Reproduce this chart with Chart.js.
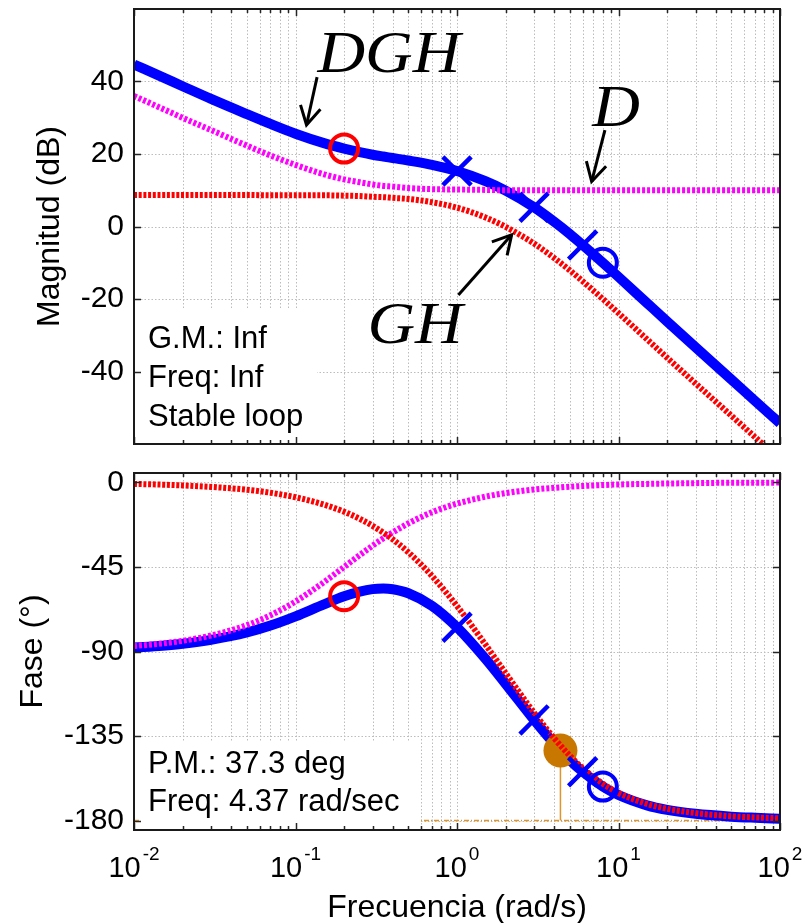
<!DOCTYPE html>
<html><head><meta charset="utf-8">
<script src="https://cdn.jsdelivr.net/npm/chart.js@4.4.1/dist/chart.umd.min.js"></script>
<style>
html,body{margin:0;padding:0;background:#fff;}
#wrap{position:relative;width:809px;height:923px;overflow:hidden;background:#fff;}
canvas{position:absolute;left:0;}
#c1{top:0}
#c2{top:460px}
</style></head><body>
<div id="wrap"><canvas id="c1" width="809" height="460"></canvas><canvas id="c2" width="809" height="463"></canvas></div>
<script>
// ---------------- data ----------------
const freq = [0.01,0.015,0.02,0.03,0.05,0.07,0.1,0.15,0.2,0.25,0.3,0.35,0.4,0.5,0.7,1,1.5,2,3,4,5,6,8,10,15,20,30,50,70,100];
const magDGH = [44.7,41.2,38.7,35.2,31.0,28.3,25.6,23.0,21.5,20.5,19.8,19.3,18.9,18.2,17.0,15.3,12.5,9.9,5.3,1.3,-2.1,-5.1,-10.0,-13.9,-21.1,-26.2,-33.3,-42.2,-48.1,-54.3];
const magD = [36.0,32.5,30.0,26.6,22.3,19.6,17.0,14.4,13.0,12.2,11.6,11.2,11.0,10.6,10.3,10.2,10.1,10.0,10.0,10.0,10.0,10.0,10.0,10.0,10.0,10.0,10.0,10.0,10.0,10.0];
const magGH = [8.7,8.7,8.7,8.7,8.7,8.6,8.6,8.6,8.5,8.4,8.2,8.1,7.9,7.6,6.7,5.2,2.5,-0.1,-4.7,-8.7,-12.1,-15.1,-20.0,-23.9,-31.1,-36.2,-43.3,-52.2,-58.1,-64.3];
const phaseDGH = [-87.9,-86.9,-85.9,-83.8,-79.9,-76.2,-71.3,-64.9,-60.6,-58.1,-56.8,-56.5,-56.9,-59.0,-65.7,-77.1,-93.9,-107.2,-126.4,-139.1,-147.8,-154.0,-161.9,-166.4,-171.9,-174.3,-176.4,-177.9,-178.5,-179.0];
const phaseD = [-87.1,-85.7,-84.3,-81.5,-76.0,-70.7,-63.4,-53.1,-45.0,-38.7,-33.7,-29.7,-26.6,-21.8,-15.9,-11.3,-7.6,-5.7,-3.8,-2.9,-2.3,-1.9,-1.4,-1.1,-0.8,-0.6,-0.4,-0.2,-0.2,-0.1];
const phaseGH = [-0.8,-1.2,-1.6,-2.4,-3.9,-5.5,-7.9,-11.8,-15.6,-19.4,-23.1,-26.8,-30.3,-37.2,-49.8,-65.8,-86.3,-101.5,-122.6,-136.2,-145.5,-152.1,-160.4,-165.3,-171.1,-173.7,-176.0,-177.7,-178.3,-178.8];

// markers
const redCircleFreq = [0.2];
const redCircleMag = [21.5];
const redCirclePhase = [-60.6];
const crossFreq = [1, 3, 6];
const crossMag = [15.3, 5.3, -5.1];
const crossPhase = [-77.1, -126.4, -154.0];
const blueCircleFreq = [8];
const blueCircleMag = [-10.0];
const blueCirclePhase = [-161.9];
const pmFreq = [4.37];
const pmPhase = [-142.7];
const phaseFloor = [-180];

// ticks
const decades = [0.01, 0.1, 1, 10, 100];
const magTicks = [-40, -20, 0, 20, 40];
const phaseTicks = [-180, -135, -90, -45, 0];

// texts
const gmLines = ['G.M.: Inf', 'Freq: Inf', 'Stable loop'];
const pmLines = ['P.M.: 37.3 deg', 'Freq: 4.37 rad/sec'];
const magTitle = 'Magnitud (dB)';
const phaseTitle = 'Fase (°)';
const freqTitle = 'Frecuencia (rad/s)';

// ---------------- helpers ----------------
const SANS = '"Liberation Sans", Arial, Helvetica, sans-serif';
const SERIF = '"Liberation Serif", "Times New Roman", serif';
const BLUE = '#0000ff', RED = '#ff0000', MAG = '#ff00ff', ORANGE = '#c87800', ORANGE_L = '#e0952a';

const xTickValues = [];
decades.forEach((d, i) => {
  xTickValues.push(d);
  if (i < decades.length - 1) for (let k = 2; k <= 9; k++) xTickValues.push(+(d * k).toPrecision(3));
});
function isMajor(v) { const l = Math.log10(v); return Math.abs(l - Math.round(l)) < 1e-9; }
const pts = (xs, ys) => xs.map((f, i) => ({x: f, y: ys[i]}));

const bodePlugin = {
  id: 'bode',
  beforeDatasetsDraw(chart, args, o) {
    const {ctx, chartArea: a, scales: {x, y}} = chart;
    ctx.save();
    ctx.strokeStyle = '#bcbcbc'; ctx.lineWidth = 1; ctx.setLineDash([1.5, 2]);
    ctx.beginPath();
    x.ticks.forEach(t => {
      const px = Math.round(x.getPixelForValue(t.value)) + 0.5;
      if (px > a.left + 2 && px < a.right - 2) { ctx.moveTo(px, a.top); ctx.lineTo(px, a.bottom); }
    });
    y.ticks.forEach(t => {
      const py = Math.round(y.getPixelForValue(t.value)) + 0.5;
      ctx.moveTo(a.left, py); ctx.lineTo(a.right, py);
    });
    ctx.stroke();
    ctx.restore();
  },
  afterDatasetsDraw(chart, args, o) {
    const {ctx, chartArea: a, scales: {x, y}} = chart;
    ctx.save();
    ctx.setLineDash([]);
    // info box
    const b = o.box;
    ctx.fillStyle = '#fff';
    ctx.fillRect(a.left + 5, a.bottom - b.h, b.w, b.h);
    ctx.fillStyle = '#000';
    ctx.font = '31px ' + SANS;
    ctx.textAlign = 'left'; ctx.textBaseline = 'alphabetic';
    b.lines.forEach((s, i) => ctx.fillText(s, a.left + 14, a.bottom - b.base[i]));
    // math labels
    (o.labels || []).forEach(l => {
      const px = x.getPixelForValue(l.x), py = y.getPixelForValue(l.y);
      ctx.save(); ctx.translate(px, py); ctx.scale(1.1, 1);
      ctx.font = 'italic 60px ' + SERIF; ctx.textAlign = 'center'; ctx.fillStyle = '#000';
      ctx.fillText(l.text, 0, 0); ctx.restore();
    });
    // arrows
    (o.arrows || []).forEach(ar => {
      const x1 = x.getPixelForValue(ar.from[0]), y1 = y.getPixelForValue(ar.from[1]);
      const x2 = x.getPixelForValue(ar.to[0]), y2 = y.getPixelForValue(ar.to[1]);
      const ang = Math.atan2(y2 - y1, x2 - x1), L = 21, h = Math.PI / 6.2;
      ctx.strokeStyle = '#000'; ctx.lineWidth = 3; ctx.lineCap = 'butt'; ctx.lineJoin = 'miter';
      ctx.beginPath(); ctx.moveTo(x1, y1); ctx.lineTo(x2, y2); ctx.stroke();
      ctx.beginPath();
      ctx.moveTo(x2 - L * Math.cos(ang - h), y2 - L * Math.sin(ang - h));
      ctx.lineTo(x2, y2);
      ctx.lineTo(x2 - L * Math.cos(ang + h), y2 - L * Math.sin(ang + h));
      ctx.stroke();
    });
    // ticks + frame
    ctx.strokeStyle = '#262626'; ctx.lineWidth = 1.5;
    ctx.beginPath();
    x.ticks.forEach(t => {
      const px = Math.round(x.getPixelForValue(t.value)) + 0.5, L = isMajor(t.value) ? 7 : 4;
      ctx.moveTo(px, a.top); ctx.lineTo(px, a.top + L);
      ctx.moveTo(px, a.bottom); ctx.lineTo(px, a.bottom - L);
    });
    y.ticks.forEach(t => {
      const py = Math.round(y.getPixelForValue(t.value)) + 0.5;
      ctx.moveTo(a.left, py); ctx.lineTo(a.left + 7, py);
      ctx.moveTo(a.right, py); ctx.lineTo(a.right - 7, py);
    });
    ctx.stroke();
    ctx.lineWidth = 2; ctx.strokeStyle = '#1a1a1a';
    ctx.strokeRect(a.left, a.top, a.right - a.left, a.bottom - a.top);
    ctx.restore();
  },
  afterDraw(chart, args, o) {
    const {ctx, chartArea: a, scales: {x}} = chart;
    ctx.save();
    ctx.fillStyle = '#000'; ctx.textBaseline = 'alphabetic';
    // y title
    ctx.save();
    ctx.translate(o.yTitleX, (a.top + a.bottom) / 2);
    ctx.rotate(-Math.PI / 2);
    ctx.font = '32px ' + SANS; ctx.textAlign = 'center';
    ctx.fillText(o.yTitle, 0, 0);
    ctx.restore();
    if (o.xLabels) {
      ctx.textAlign = 'left';
      x.ticks.filter(t => isMajor(t.value)).forEach(t => {
        const px = x.getPixelForValue(t.value);
        const es = String(Math.round(Math.log10(t.value)));
        ctx.font = '29px ' + SANS; const w1 = ctx.measureText('10').width;
        ctx.font = '19px ' + SANS; const w2 = ctx.measureText(es).width;
        const x0 = px - (w1 + w2 + 2) / 2;
        ctx.font = '29px ' + SANS; ctx.fillText('10', x0, a.bottom + 47);
        ctx.font = '19px ' + SANS; ctx.fillText(es, x0 + w1 + 2, a.bottom + 30);
      });
      ctx.font = '32px ' + SANS; ctx.textAlign = 'center';
      ctx.fillText(o.xTitle, (a.left + a.right) / 2, a.bottom + 87);
    }
    ctx.restore();
  }
};

function xScale() {
  return {
    type: 'logarithmic', min: 0.01, max: 100,
    grid: {display: false, drawTicks: false}, border: {display: false},
    ticks: {display: false},
    afterBuildTicks: s => { s.ticks = xTickValues.map(v => ({value: v, major: isMajor(v)})); },
    afterFit: s => { s.height = s.chart.canvas.id === 'c1' ? 0 : 93; s.paddingLeft = 0; s.paddingRight = 0; s.paddingTop = 0; s.paddingBottom = 0; }
  };
}
function yScale(min, max, ticks) {
  return {
    type: 'linear', min: min, max: max,
    grid: {display: false, drawTicks: false}, border: {display: false},
    ticks: {font: {family: SANS, size: 30}, color: '#000', padding: 10, callback: v => String(v)},
    afterBuildTicks: s => { s.ticks = ticks.map(v => ({value: v})); },
    afterFit: s => { s.width = 134; s.paddingTop = 0; s.paddingBottom = 0; s.paddingLeft = 0; s.paddingRight = 0; }
  };
}
const lineDs = (data, color, width, dash, order) => ({
  data, borderColor: color, borderWidth: width, borderDash: dash, borderCapStyle: 'butt', borderJoinStyle: 'round',
  pointRadius: 0, cubicInterpolationMode: 'monotone', fill: false, order
});
const markDs = (data, style, r, color, bw, order, fillColor) => ({
  data, showLine: false, pointStyle: style, pointRadius: r, borderColor: color, borderWidth: bw,
  pointBackgroundColor: fillColor || 'rgba(0,0,0,0)', backgroundColor: fillColor || 'rgba(0,0,0,0)', pointBorderColor: color, pointBorderWidth: bw, order
});

// ---------------- magnitude chart ----------------
new Chart(document.getElementById('c1'), {
  type: 'line',
  data: {datasets: [
    lineDs(pts(freq, magDGH), BLUE, 10, [], 5),
    lineDs(pts(freq, magD), MAG, 6, [3, 2], 3),
    lineDs(pts(freq, magGH), RED, 6, [3, 1.7], 2),
    markDs(pts(redCircleFreq, redCircleMag), 'circle', 14, RED, 4, 0),
    markDs(pts(crossFreq, crossMag), 'crossRot', 20, BLUE, 4.5, 0),
    markDs(pts(blueCircleFreq, blueCircleMag), 'circle', 14, BLUE, 4, 0)
  ]},
  options: {
    responsive: false, animation: false, devicePixelRatio: 1, events: [],
    layout: {autoPadding: false, padding: {top: 9, right: 29, bottom: 16, left: 0}},
    plugins: {
      legend: {display: false}, tooltip: {enabled: false},
      bode: {
        yTitle: magTitle, yTitleX: 59,
        box: {w: 178, h: 134, lines: gmLines, base: [96, 57, 18]},
        labels: [{text: 'DGH', x: 0.379, y: 42.6}, {text: 'D', x: 9.66, y: 27.7}, {text: 'GH', x: 0.55, y: -32.1}],
        arrows: [{from: [0.136, 41.2], to: [0.117, 28.0]}, {from: [8.24, 26.6], to: [6.82, 12.4]}, {from: [1.02, -18.9], to: [2.18, -2.3]}]
      }
    },
    scales: {x: xScale(), y: yScale(-60, 60, magTicks)}
  },
  plugins: [bodePlugin]
});

// ---------------- phase chart ----------------
new Chart(document.getElementById('c2'), {
  type: 'line',
  data: {datasets: [
    {data: [{x: 0.01, y: phaseFloor[0]}, {x: 100, y: phaseFloor[0]}], borderColor: ORANGE_L, borderWidth: 1.5, borderDash: [5, 2, 1, 2], pointRadius: 0, order: 7},
    {data: [{x: pmFreq[0], y: pmPhase[0]}, {x: pmFreq[0], y: phaseFloor[0]}], borderColor: ORANGE_L, borderWidth: 1.5, pointRadius: 0, order: 6},
    lineDs(pts(freq, phaseDGH), BLUE, 10, [], 5),
    markDs(pts(pmFreq, pmPhase), 'circle', 17, ORANGE, 0, 4, ORANGE),
    lineDs(pts(freq, phaseD), MAG, 6, [3, 2], 3),
    lineDs(pts(freq, phaseGH), RED, 6, [3, 1.7], 2),
    markDs(pts(redCircleFreq, redCirclePhase), 'circle', 14, RED, 4, 0),
    markDs(pts(crossFreq, crossPhase), 'crossRot', 20, BLUE, 4.5, 0),
    markDs(pts(blueCircleFreq, blueCirclePhase), 'circle', 14, BLUE, 4, 0)
  ]},
  options: {
    responsive: false, animation: false, devicePixelRatio: 1, events: [],
    layout: {autoPadding: false, padding: {top: 13, right: 29, bottom: 0, left: 0}},
    plugins: {
      legend: {display: false}, tooltip: {enabled: false},
      bode: {
        yTitle: phaseTitle, yTitleX: 41.5, xLabels: true, xTitle: freqTitle,
        box: {w: 281, h: 88, lines: pmLines, base: [57, 19]}
      }
    },
    scales: {x: xScale(), y: yScale(-185, 5, phaseTicks)}
  },
  plugins: [bodePlugin]
});
</script>
</body></html>
